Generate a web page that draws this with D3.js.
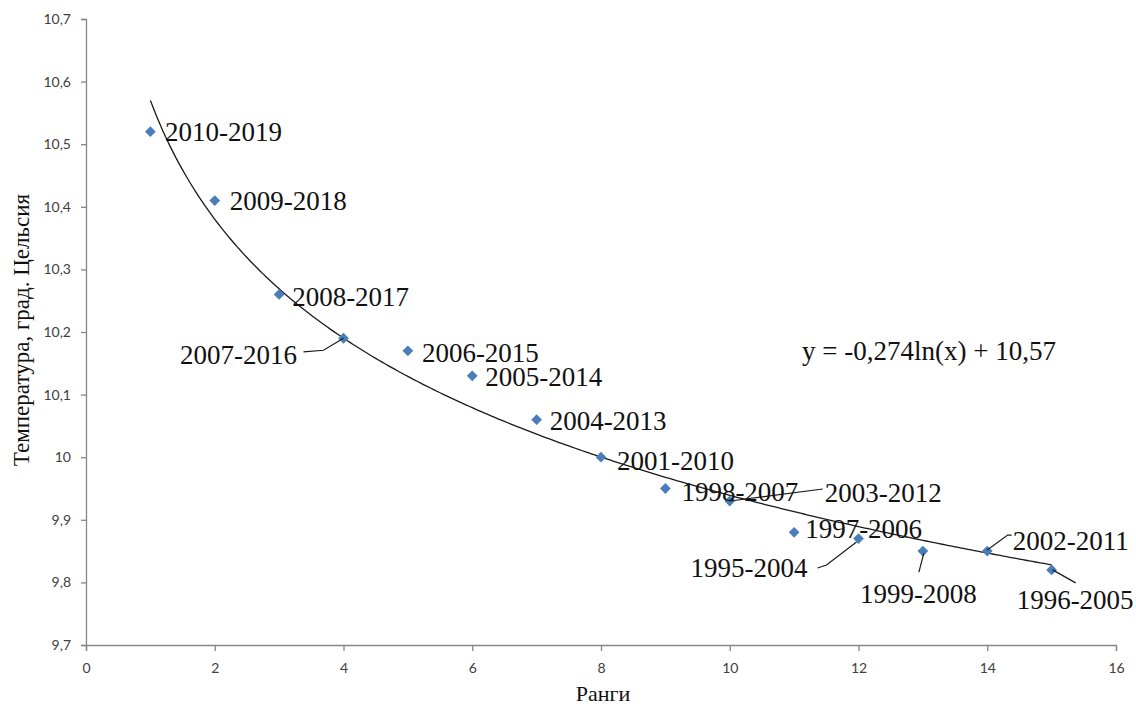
<!DOCTYPE html>
<html>
<head>
<meta charset="utf-8">
<script src="https://cdn.jsdelivr.net/npm/d3@7"></script>
<style>
  html, body { margin: 0; padding: 0; background: #fff; }
  svg { display: block; }
  .tick text { font-family: Lato, "Open Sans", sans-serif; font-size: 14px; fill: #404040; }
  .lbl { font-family: "Liberation Serif", "Times New Roman", serif; font-size: 27px; fill: #111; }
</style>
</head>
<body>
<script>
// ---- data ----
const ranks = [1, 2, 3, 4, 5, 6, 7, 8, 9, 10, 11, 12, 13, 14, 15];
const temps = [10.52, 10.41, 10.26, 10.19, 10.17, 10.13, 10.06, 10.00, 9.95, 9.93, 9.88, 9.87, 9.85, 9.85, 9.82];
const periods = ["2010-2019", "2009-2018", "2008-2017", "2007-2016", "2006-2015", "2005-2014", "2004-2013",
                 "2001-2010", "1998-2007", "2003-2012", "1997-2006", "1995-2004", "1999-2008", "2002-2011", "1996-2005"];
const xTicks = [0, 2, 4, 6, 8, 10, 12, 14, 16];
const yTicks = [9.7, 9.8, 9.9, 10.0, 10.1, 10.2, 10.3, 10.4, 10.5, 10.6, 10.7];
const trendA = -0.274, trendB = 10.57;
const equationText = "y = -0,274ln(x) + 10,57";
const xTitle = "Ранги";
const yTitle = "Температура, град. Цельсия";

// ---- label layout (pixel offsets from the marker) ----
const labelLayout = [
  {dx: 14.6, dy: -0.5, anchor: "start"},
  {dx: 15, dy: 0.5, anchor: "start"},
  {dx: 13, dy: 2.5, anchor: "start"},
  {dx: -46.6, dy: 16.7, anchor: "end", leader: [[-40, 13.7], [-20, 12], [0, 0]]},
  {dx: 14, dy: 2, anchor: "start"},
  {dx: 13, dy: 1, anchor: "start"},
  {dx: 13, dy: 0.5, anchor: "start"},
  {dx: 16, dy: 3, anchor: "start"},
  {dx: 16, dy: 3.5, anchor: "start"},
  {dx: 95, dy: -8, anchor: "start", leader: [[0, 0], [93, -12]]},
  {dx: 11, dy: -4, anchor: "start"},
  {dx: -51, dy: 29.4, anchor: "end", leader: [[-41, 29.4], [-32, 26.4], [-2, 3.4]]},
  {dx: -63, dy: 42, anchor: "start", leader: [[-4, 21], [1, 2]]},
  {dx: 25.4, dy: -11, anchor: "start", leader: [[0, -1], [20.4, -16], [24.4, -16]]},
  {dx: -35, dy: 30, anchor: "start", leader: [[1, 0], [24, 13]]}
];

const W = 1136, H = 706;
const margin = {left: 86, right: 20, top: 19, bottom: 61};

const svg = d3.select("body").append("svg").attr("width", W).attr("height", H);

const x = d3.scaleLinear().domain([0, 16]).range([margin.left, W - margin.right]);
const y = d3.scaleLinear().domain([9.7, 10.7]).range([H - margin.bottom, margin.top]);

// axes
const axisColor = "#868686";
const gx = svg.append("g").attr("transform", `translate(0,${H - margin.bottom})`)
  .call(d3.axisBottom(x).tickValues(xTicks).tickSize(6).tickPadding(12).tickFormat(d3.format("d")));
const gy = svg.append("g").attr("transform", `translate(${margin.left},0)`)
  .call(d3.axisLeft(y).tickValues(yTicks).tickSize(5).tickPadding(10).tickFormat(v => {
    const s = d3.format(".1f")(v).replace(".", ",");
    return s === "10,0" ? "10" : s;
  }));
[gx, gy].forEach(g => {
  g.select(".domain").attr("stroke", axisColor).attr("stroke-width", 1.3);
  g.selectAll(".tick line").attr("stroke", axisColor).attr("stroke-width", 1.3);
});

// trend line
const xs = d3.range(1, 15.0001, 0.05);
const line = d3.line().x(d => x(d)).y(d => y(trendA * Math.log(d) + trendB));
svg.append("path").datum(xs).attr("d", line)
  .attr("fill", "none").attr("stroke", "#1a1a1a").attr("stroke-width", 1.3);

// markers
const pts = ranks.map((r, i) => ({r, t: temps[i], p: periods[i], L: labelLayout[i]}));
svg.append("g").selectAll("path").data(pts).join("path")
  .attr("d", d3.symbol(d3.symbolSquare, 58)())
  .attr("transform", d => `translate(${x(d.r)},${y(d.t)}) rotate(45)`)
  .attr("fill", "#4a7ebb");

// leader lines
svg.append("g").selectAll("path").data(pts.filter(d => d.L.leader)).join("path")
  .attr("d", d => d3.line()(d.L.leader.map(([a, b]) => [x(d.r) + a, y(d.t) + b])))
  .attr("fill", "none").attr("stroke", "#1a1a1a").attr("stroke-width", 1.2);

// labels
svg.append("g").selectAll("text").data(pts).join("text")
  .attr("class", "lbl")
  .attr("x", d => x(d.r) + d.L.dx)
  .attr("y", d => y(d.t) + d.L.dy)
  .attr("dy", "0.35em")
  .attr("text-anchor", d => d.L.anchor)
  .text(d => d.p);

// equation
svg.append("text").attr("class", "lbl")
  .attr("x", 802).attr("y", y(10.17)).attr("dy", "0.35em")
  .style("font-size", "27px")
  .text(equationText);

// axis titles
svg.append("text")
  .attr("x", (x(0) + x(16)) / 2 + 2).attr("y", 701)
  .attr("text-anchor", "middle")
  .style("font-family", "'Liberation Serif', 'Times New Roman', serif").style("font-size", "22px").attr("fill", "#111")
  .text(xTitle);
svg.append("text")
  .attr("transform", `translate(29,330) rotate(-90)`)
  .attr("text-anchor", "middle")
  .style("font-family", "'Liberation Serif', 'Times New Roman', serif").style("font-size", "23px").attr("fill", "#111")
  .text(yTitle);
</script>
</body>
</html>
